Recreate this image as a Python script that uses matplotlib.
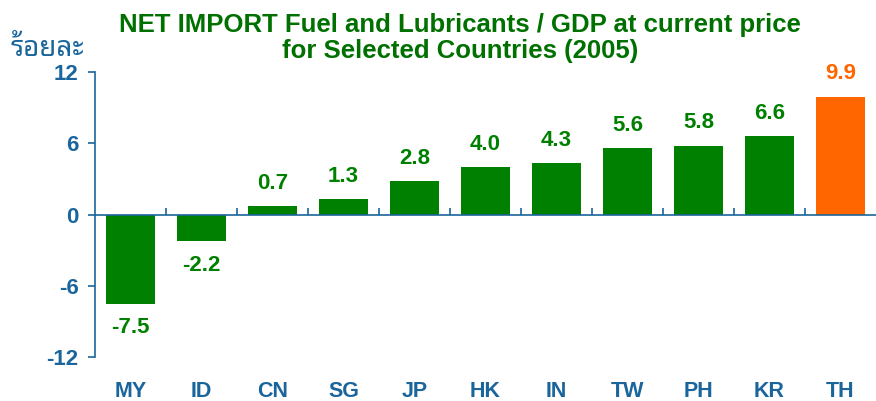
import matplotlib.pyplot as plt
import matplotlib.transforms as mtransforms

# Data
countries = ["MY", "ID", "CN", "SG", "JP", "HK", "IN", "TW", "PH", "KR", "TH"]
values = [-7.5, -2.2, 0.7, 1.3, 2.8, 4.0, 4.3, 5.6, 5.8, 6.6, 9.9]
highlight = "TH"
y_ticks = [-12, -6, 0, 6, 12]

GREEN = "#008000"
ORANGE = "#FF6600"
BLUE = "#1A669C"
TITLE_GREEN = "#007000"

plt.rcParams["font.family"] = ["Liberation Sans", "DejaVu Sans"]

fig = plt.figure(figsize=(8.76, 4.01), dpi=100)
ax = fig.add_axes([0.1085, 0.1097, 0.8915, 0.7107])

colors = [ORANGE if c == highlight else GREEN for c in countries]
x = list(range(len(countries)))
ax.bar(x, values, width=0.69, color=colors, zorder=2)

ax.set_xlim(-0.5, len(countries) - 0.5)
ax.set_ylim(-12, 12)

# Spines
for s in ["top", "right"]:
    ax.spines[s].set_visible(False)
ax.spines["left"].set_color(BLUE)
ax.spines["left"].set_linewidth(1.2)
ax.spines["bottom"].set_position(("data", 0))
ax.spines["bottom"].set_color(BLUE)
ax.spines["bottom"].set_linewidth(1.2)
ax.spines["bottom"].set_zorder(3)

ax.set_yticks(y_ticks)
ax.set_yticklabels([str(t) for t in y_ticks])
ax.tick_params(axis="y", colors=BLUE, length=5, width=1.2, labelsize=16, pad=7)
for lbl in ax.get_yticklabels():
    lbl.set_fontweight("bold")

ax.set_xticks([i + 0.5 for i in x[:-1]])
ax.set_xticklabels([])
ax.tick_params(axis="x", direction="in", colors=BLUE, length=5, width=1.2)

# Category labels below axes
trans = mtransforms.blended_transform_factory(ax.transData, ax.transAxes)
for i, c in enumerate(countries):
    ax.text(i, -0.12, c, transform=trans, ha="center", va="center",
            fontsize=15.5, fontweight="bold", color=BLUE)

# Value labels
for i, (v, col) in enumerate(zip(values, colors)):
    if v >= 0:
        ax.annotate(f"{v:.1f}", (i, v), xytext=(0, 9), textcoords="offset points",
                    ha="center", va="bottom", fontsize=16, fontweight="bold", color=col)
    else:
        ax.annotate(f"{v:.1f}", (i, v), xytext=(0, -10), textcoords="offset points",
                    ha="center", va="top", fontsize=16, fontweight="bold", color=col)

fig.text(0.525, 0.905, "NET IMPORT Fuel and Lubricants / GDP at current price\nfor Selected Countries (2005)",
         ha="center", va="center", fontsize=18.5, fontweight="bold", color=TITLE_GREEN,
         linespacing=1.12)

fig.text(0.054, 0.878, "ร้อยละ", ha="center", va="center", fontsize=20, fontweight="bold",
         color=BLUE, family=["Noto Sans Thai Looped", "Noto Sans Thai", "DejaVu Sans"])

fig.savefig("out.png", dpi=100)
